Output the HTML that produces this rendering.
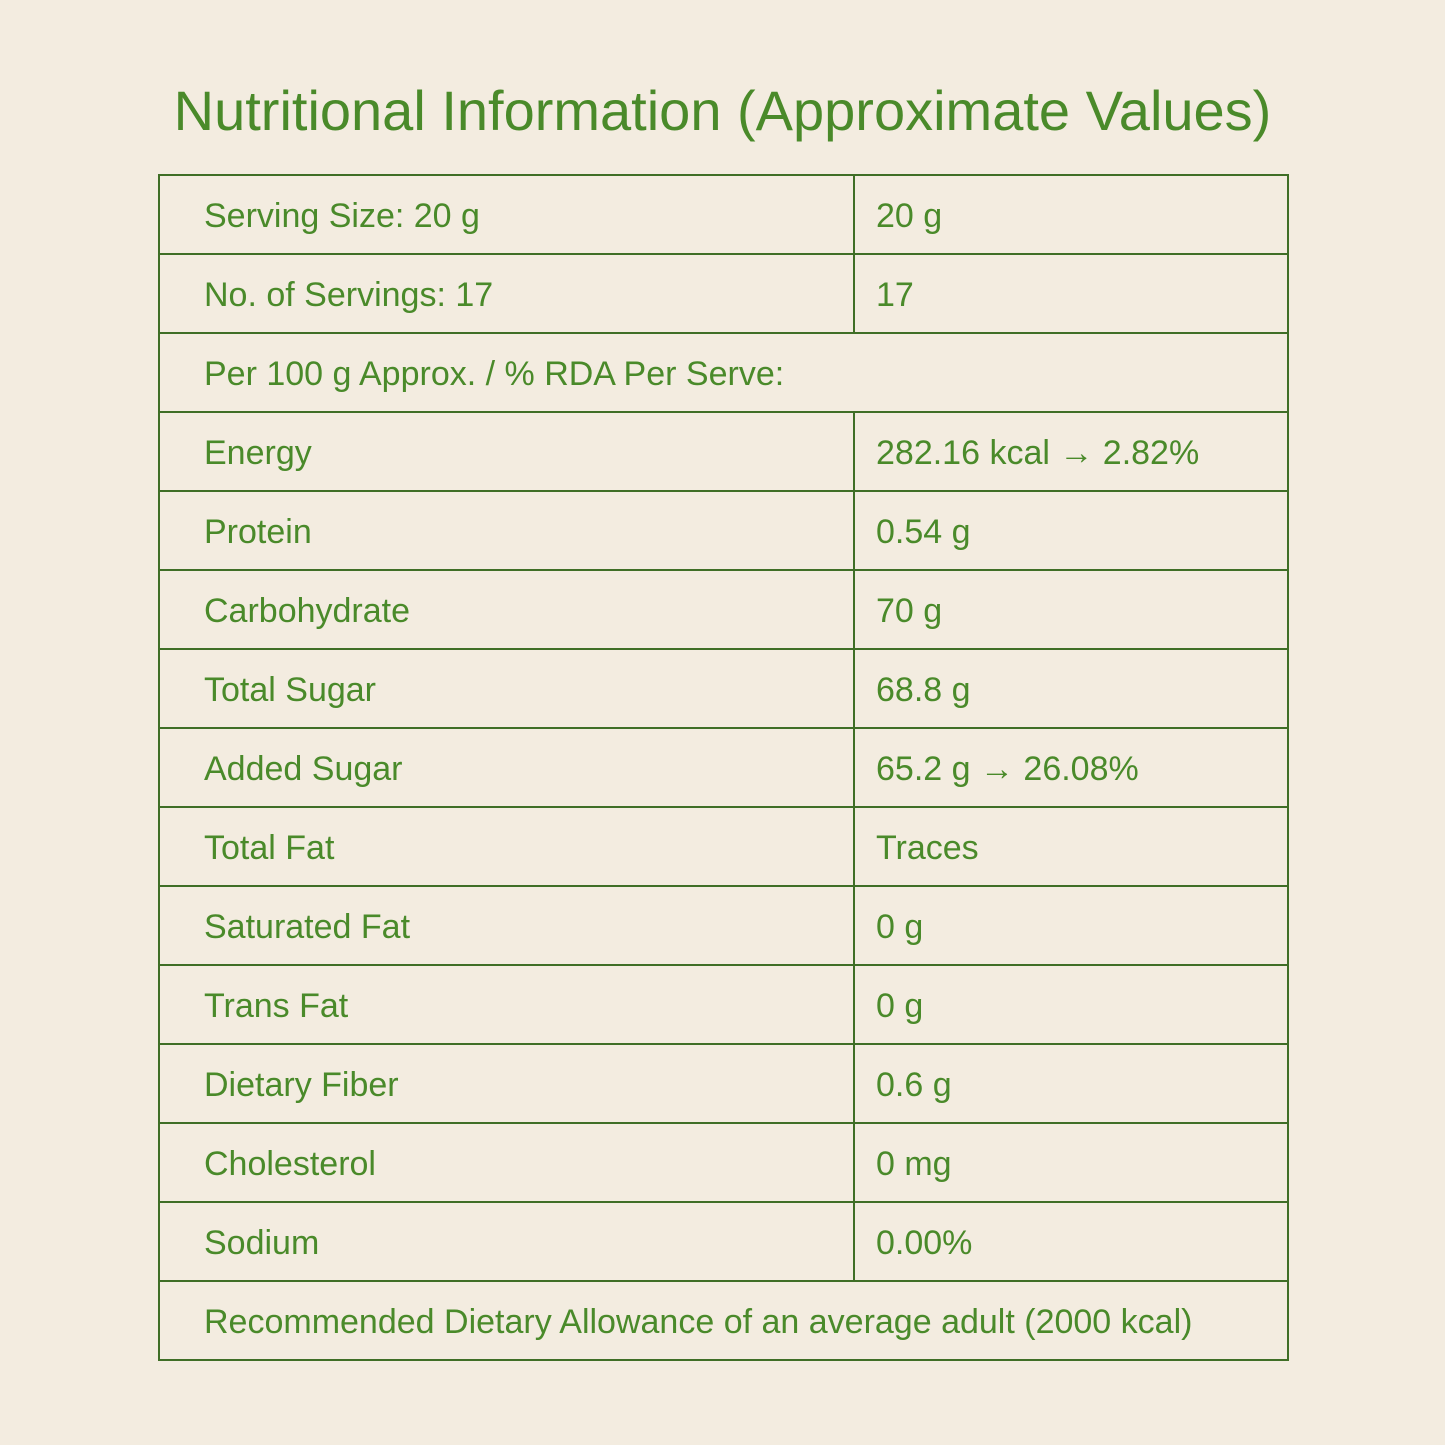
<!DOCTYPE html>
<html>
<head>
<meta charset="utf-8">
<style>
  html,body{margin:0;padding:0;}
  body{width:1445px;height:1445px;background:#f3ece0;font-family:"Liberation Sans",sans-serif;color:#4a8a2a;position:relative;overflow:hidden;}
  h1{position:absolute;left:0;top:76px;width:1445px;margin:0;text-align:center;font-weight:normal;font-size:56px;line-height:70px;color:#4a8a2a;}
  table{position:absolute;left:158px;top:174px;width:1129px;border-collapse:collapse;table-layout:fixed;}
  td{border:2px solid #3f6e26;height:79px;padding:3px 0 0 44px;font-size:34px;box-sizing:border-box;vertical-align:middle;white-space:nowrap;}
  col.c1{width:695px;} col.c2{width:434px;}
  td.v{padding-left:21px;}
</style>
</head>
<body>
<h1>Nutritional Information (Approximate Values)</h1>
<table>
<colgroup><col class="c1"><col class="c2"></colgroup>
<tr><td>Serving Size: 20 g</td><td class="v">20 g</td></tr>
<tr><td>No. of Servings: 17</td><td class="v">17</td></tr>
<tr><td colspan="2">Per 100 g Approx. / % RDA Per Serve:</td></tr>
<tr><td>Energy</td><td class="v">282.16 kcal → 2.82%</td></tr>
<tr><td>Protein</td><td class="v">0.54 g</td></tr>
<tr><td>Carbohydrate</td><td class="v">70 g</td></tr>
<tr><td>Total Sugar</td><td class="v">68.8 g</td></tr>
<tr><td>Added Sugar</td><td class="v">65.2 g → 26.08%</td></tr>
<tr><td>Total Fat</td><td class="v">Traces</td></tr>
<tr><td>Saturated Fat</td><td class="v">0 g</td></tr>
<tr><td>Trans Fat</td><td class="v">0 g</td></tr>
<tr><td>Dietary Fiber</td><td class="v">0.6 g</td></tr>
<tr><td>Cholesterol</td><td class="v">0 mg</td></tr>
<tr><td>Sodium</td><td class="v">0.00%</td></tr>
<tr><td colspan="2">Recommended Dietary Allowance of an average adult (2000 kcal)</td></tr>
</table>
</body>
</html>
